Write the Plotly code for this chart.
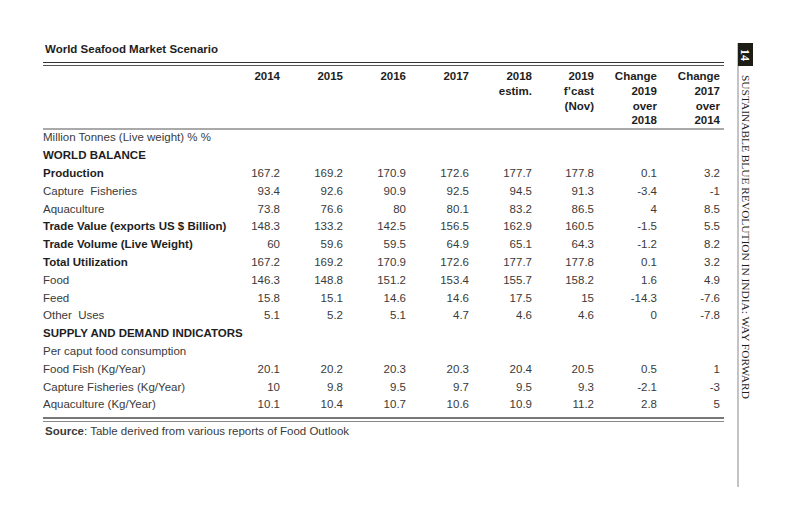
import plotly.graph_objects as go

# ── data ──────────────────────────────────────────────────────────────────────
TITLE = "World Seafood Market Scenario"
SOURCE = "<b>Source</b>: Table derived from various reports of Food Outlook"
SIDEBAR = "SUSTAINABLE BLUE REVOLUTION IN INDIA: WAY FORWARD"
PAGE_NO = "14"

col_headers = [
    "2014", "2015", "2016", "2017",
    "2018<br>estim.",
    "2019<br>f’cast<br>(Nov)",
    "Change<br>2019<br>over<br>2018",
    "Change<br>2017<br>over<br>2014",
]

row_labels = [
    "Million Tonnes (Live weight) % %",
    "WORLD BALANCE",
    "Production",
    "Capture  Fisheries",
    "Aquaculture",
    "Trade Value (exports US $ Billion)",
    "Trade Volume (Live Weight)",
    "Total Utilization",
    "Food",
    "Feed",
    "Other  Uses",
    "SUPPLY AND DEMAND INDICATORS",
    "Per caput food consumption",
    "Food Fish (Kg/Year)",
    "Capture Fisheries (Kg/Year)",
    "Aquaculture (Kg/Year)",
]
bold_rows = {1, 2, 5, 6, 7, 11}

v2014 = [None, None, 167.2, 93.4, 73.8, 148.3, 60, 167.2, 146.3, 15.8, 5.1, None, None, 20.1, 10, 10.1]
v2015 = [None, None, 169.2, 92.6, 76.6, 133.2, 59.6, 169.2, 148.8, 15.1, 5.2, None, None, 20.2, 9.8, 10.4]
v2016 = [None, None, 170.9, 90.9, 80, 142.5, 59.5, 170.9, 151.2, 14.6, 5.1, None, None, 20.3, 9.5, 10.7]
v2017 = [None, None, 172.6, 92.5, 80.1, 156.5, 64.9, 172.6, 153.4, 14.6, 4.7, None, None, 20.3, 9.7, 10.6]
v2018 = [None, None, 177.7, 94.5, 83.2, 162.9, 65.1, 177.7, 155.7, 17.5, 4.6, None, None, 20.4, 9.5, 10.9]
v2019 = [None, None, 177.8, 91.3, 86.5, 160.5, 64.3, 177.8, 158.2, 15, 4.6, None, None, 20.5, 9.3, 11.2]
chg_19_18 = [None, None, 0.1, -3.4, 4, -1.5, -1.2, 0.1, 1.6, -14.3, 0, None, None, 0.5, -2.1, 2.8]
chg_17_14 = [None, None, 3.2, -1, 8.5, 5.5, 8.2, 3.2, 4.9, -7.6, -7.8, None, None, 1, -3, 5]

columns = [v2014, v2015, v2016, v2017, v2018, v2019, chg_19_18, chg_17_14]

# ── layout (page pixels) ──────────────────────────────────────────────────────
W, H = 800, 530
PAGE_OFF = 8          # default body margin of the html page
LEFT, RIGHT = 43, 724
COL_RIGHT = [280, 343, 406, 469, 532, 594, 657, 720]
ROW_TOP, ROW_H = 138.5, 17.8
HEAD_TOP = 71
FONT = "Liberation Sans, Arial, sans-serif"
SERIF = "Liberation Serif, Times New Roman, serif"
INK = "#1e1e1e"      # bold / headings
BODY = "#3a3a3a"     # plain table text
FS = 11.5

row_y = [ROW_TOP + i * ROW_H for i in range(len(row_labels))]

fig = go.Figure()

# row labels
fig.add_trace(go.Scatter(
    x=[LEFT] * len(row_labels), y=row_y,
    text=[f"<b>{s}</b>" if i in bold_rows else s for i, s in enumerate(row_labels)],
    mode="text", textposition="middle right",
    textfont=dict(family=FONT, size=FS,
                  color=[INK if i in bold_rows else BODY for i in range(len(row_labels))]),
    hoverinfo="skip", showlegend=False,
))

# column headers
fig.add_trace(go.Scatter(
    x=COL_RIGHT, y=[HEAD_TOP] * len(col_headers),
    text=[f"<b>{h}</b>".replace("<br>", "</b><br><b>") for h in col_headers],
    mode="text", textposition="bottom left",
    textfont=dict(family=FONT, size=FS, color=INK),
    hoverinfo="skip", showlegend=False,
))

# values
for xr, vals in zip(COL_RIGHT, columns):
    ys = [y for y, v in zip(row_y, vals) if v is not None]
    txt = [f"{v:g}" for v in vals if v is not None]
    fig.add_trace(go.Scatter(
        x=[xr] * len(ys), y=ys, text=txt,
        mode="text", textposition="middle left",
        textfont=dict(family=FONT, size=FS, color=BODY),
        hoverinfo="skip", showlegend=False,
    ))

# rules
rule = dict(type="line", xref="x", yref="y", x0=LEFT, x1=RIGHT)
fig.add_shape(**rule, y0=62.5, y1=62.5, line=dict(color="#333", width=1))
fig.add_shape(**rule, y0=65.5, y1=65.5, line=dict(color="#555", width=1))
fig.add_shape(**rule, y0=129, y1=129, line=dict(color="#555", width=1))
fig.add_shape(**rule, y0=418, y1=418, line=dict(color="#777", width=2))
fig.add_shape(**rule, y0=421.5, y1=421.5, line=dict(color="#888", width=1))

# sidebar
fig.add_shape(type="line", x0=738, x1=738, y0=43, y1=487, line=dict(color="#888", width=1))
fig.add_shape(type="rect", x0=738, x1=753, y0=43, y1=66,
              fillcolor="#1c1d14", line=dict(width=0))
fig.add_annotation(x=745.5, y=54.5, text=f"<b>{PAGE_NO}</b>", textangle=90,
                   showarrow=False, font=dict(family=SERIF, size=12, color="white"))
fig.add_annotation(x=746, y=73, text=SIDEBAR, textangle=90, showarrow=False,
                   xanchor="center", yanchor="top",
                   font=dict(family=SERIF, size=11.4, color=INK))

# title and source
fig.add_annotation(x=LEFT, y=48.5, text=f"<b>{TITLE}</b>", showarrow=False,
                   xanchor="left", yanchor="middle",
                   font=dict(family=FONT, size=FS, color=INK))
fig.add_annotation(x=LEFT, y=431, text=SOURCE, showarrow=False,
                   xanchor="left", yanchor="middle",
                   font=dict(family=FONT, size=FS, color=BODY))

fig.update_xaxes(range=[PAGE_OFF, W + PAGE_OFF], visible=False, fixedrange=True)
fig.update_yaxes(range=[H + PAGE_OFF, PAGE_OFF], visible=False, fixedrange=True)
fig.update_layout(
    width=W, height=H,
    margin=dict(l=0, r=0, t=0, b=0),
    paper_bgcolor="white", plot_bgcolor="white",
    showlegend=False,
)

fig.write_html("out.html")
